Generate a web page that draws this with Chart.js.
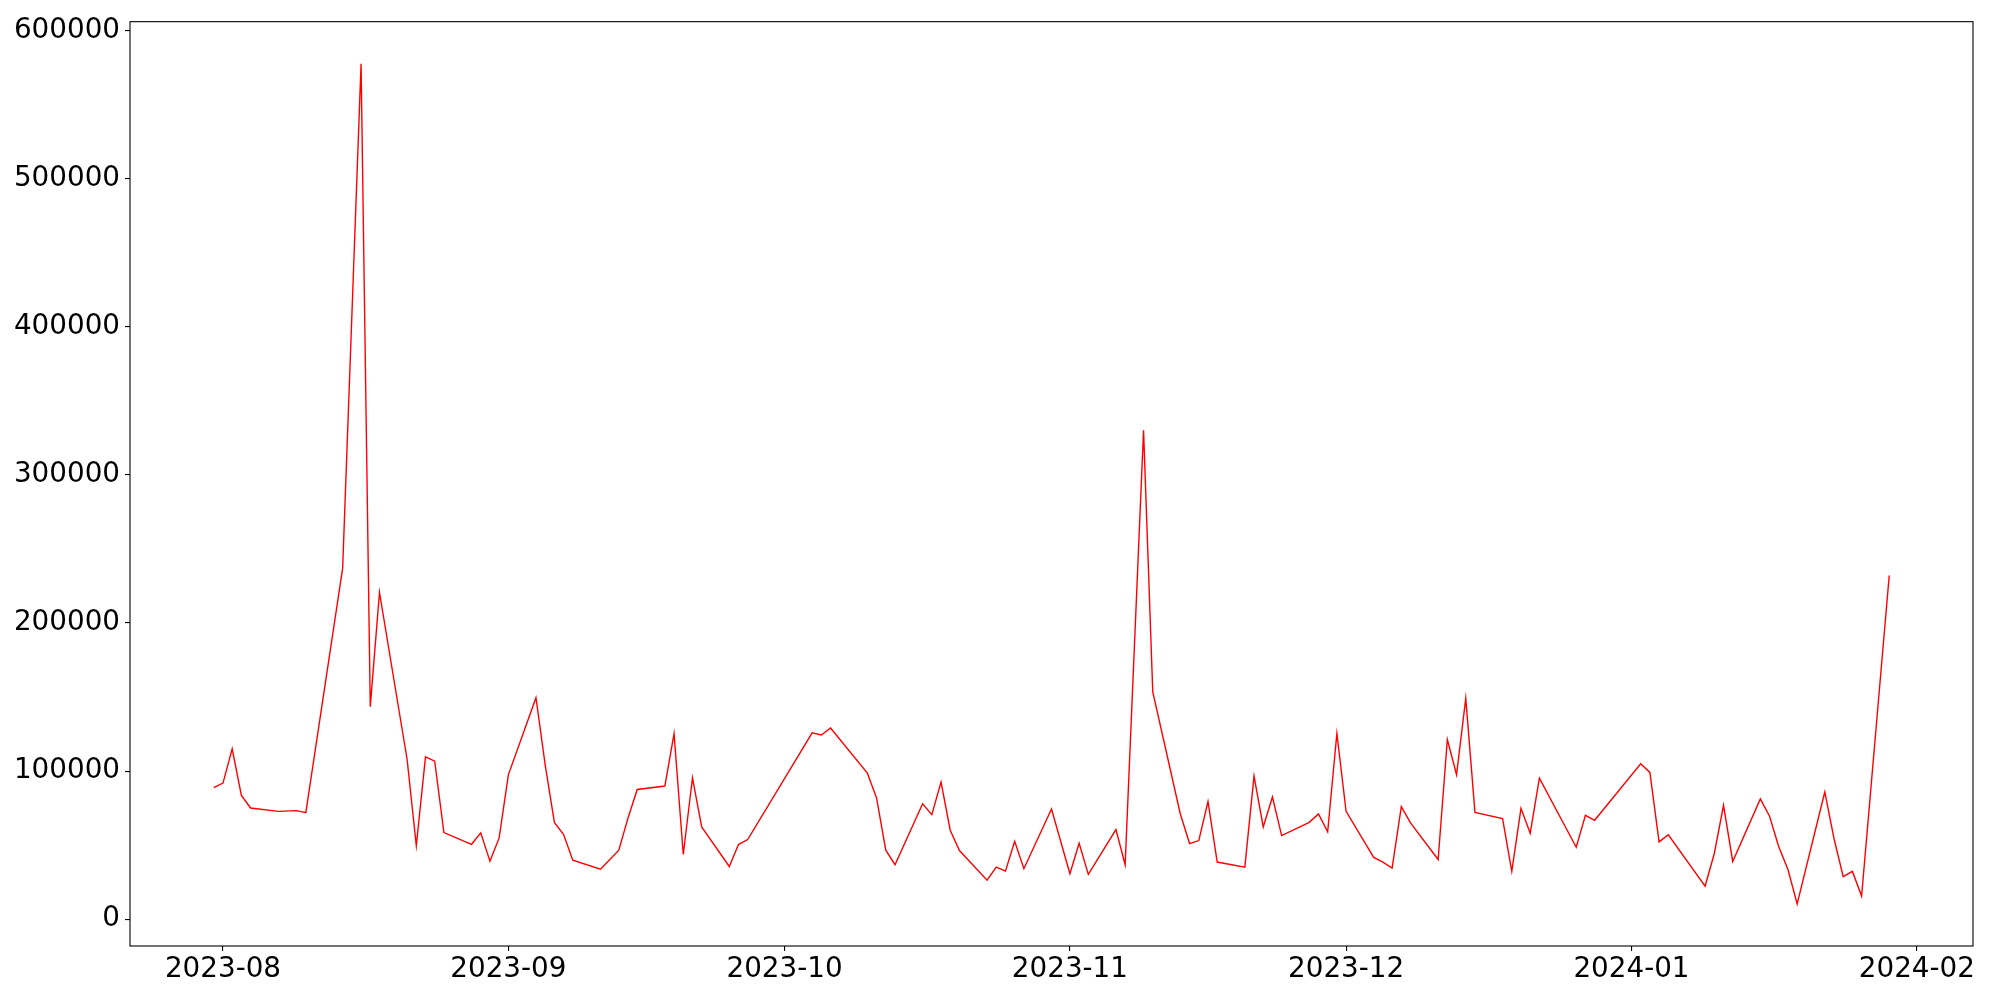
<!DOCTYPE html>
<html>
<head>
<meta charset="utf-8">
<script src="https://cdn.jsdelivr.net/npm/chart.js@4.4.0/dist/chart.umd.min.js"></script>
<style>
html, body { margin: 0; padding: 0; background: #fff; }
#wrap { width: 2000px; height: 1000px; }
</style>
</head>
<body>
<div id="wrap"><canvas id="c" width="2000" height="1000"></canvas></div>
<script>
// daily values
const dates = [
    '2023-07-31', '2023-08-01', '2023-08-02', '2023-08-03', '2023-08-04', '2023-08-07', '2023-08-09', '2023-08-10',
    '2023-08-14', '2023-08-16', '2023-08-17', '2023-08-18', '2023-08-21', '2023-08-22', '2023-08-23', '2023-08-24',
    '2023-08-25', '2023-08-28', '2023-08-29', '2023-08-30', '2023-08-31', '2023-09-01', '2023-09-04', '2023-09-05',
    '2023-09-06', '2023-09-07', '2023-09-08', '2023-09-11', '2023-09-13', '2023-09-14', '2023-09-15', '2023-09-18',
    '2023-09-19', '2023-09-20', '2023-09-21', '2023-09-22', '2023-09-25', '2023-09-26', '2023-09-27', '2023-10-04',
    '2023-10-05', '2023-10-06', '2023-10-10', '2023-10-11', '2023-10-12', '2023-10-13', '2023-10-16', '2023-10-17',
    '2023-10-18', '2023-10-19', '2023-10-20', '2023-10-23', '2023-10-24', '2023-10-25', '2023-10-26', '2023-10-27',
    '2023-10-30', '2023-11-01', '2023-11-02', '2023-11-03', '2023-11-06', '2023-11-07', '2023-11-09', '2023-11-10',
    '2023-11-13', '2023-11-14', '2023-11-15', '2023-11-16', '2023-11-17', '2023-11-20', '2023-11-21', '2023-11-22',
    '2023-11-23', '2023-11-24', '2023-11-27', '2023-11-28', '2023-11-29', '2023-11-30', '2023-12-01', '2023-12-04',
    '2023-12-05', '2023-12-06', '2023-12-07', '2023-12-08', '2023-12-11', '2023-12-12', '2023-12-13', '2023-12-14',
    '2023-12-15', '2023-12-18', '2023-12-19', '2023-12-20', '2023-12-21', '2023-12-22', '2023-12-26', '2023-12-27',
    '2023-12-28', '2024-01-02', '2024-01-03', '2024-01-04', '2024-01-05', '2024-01-09', '2024-01-10', '2024-01-11',
    '2024-01-12', '2024-01-15', '2024-01-16', '2024-01-17', '2024-01-18', '2024-01-19', '2024-01-22', '2024-01-23',
    '2024-01-24', '2024-01-25', '2024-01-26', '2024-01-29'
];
const values = [
    88800, 91900, 115000, 83600, 75100, 72800, 73300, 72000,
    237000, 577500, 143500, 220600, 108000, 49800, 109600, 106700,
    58500, 50600, 58300, 39200, 54900, 97500, 149500, 104200,
    65400, 57200, 39900, 33800, 46600, 68400, 87600, 89900,
    125300, 43700, 95500, 62300, 35600, 50400, 53800, 125800,
    124400, 129100, 98600, 81800, 46600, 36800, 78000, 70600,
    92600, 60100, 46400, 26400, 35200, 32500, 52700, 34100,
    74400, 30700, 51300, 30300, 60500, 36800, 330000, 153500,
    70900, 51100, 53100, 79500, 38600, 35200, 96600, 62300,
    82500, 56500, 65400, 71100, 59000, 125500, 72800, 41700,
    38500, 34500, 76000, 65000, 40300, 121300, 97500, 149100,
    72100, 67900, 32300, 74900, 58100, 95300, 48600, 70100,
    66800, 104900, 99100, 52200, 57000, 22400, 44400, 76900,
    39000, 81200, 69500, 48900, 33600, 10300, 85900, 54500,
    28700, 32300, 15700, 232000
];
const xTickDates = ['2023-08-01', '2023-09-01', '2023-10-01', '2023-11-01', '2023-12-01', '2024-01-01', '2024-02-01'];
const xTickLabels = ['2023-08', '2023-09', '2023-10', '2023-11', '2023-12', '2024-01', '2024-02'];
const yTicks = [0, 100000, 200000, 300000, 400000, 500000, 600000];

const DAY_MS = 86400000;
function toDay(s) {
    const p = s.split('-').map(Number);
    return Date.UTC(p[0], p[1] - 1, p[2]) / DAY_MS;
}

const points = dates.map((d, i) => ({ x: toDay(d), y: values[i] }));

// axis limits like matplotlib's default 5% margin
const xs = points.map(p => p.x);
const xLo = Math.min(...xs), xHi = Math.max(...xs);
const xPad = (xHi - xLo) * 0.05;
const yLo = Math.min(...values), yHi = Math.max(...values);
const yPad = (yHi - yLo) * 0.05;

const tickFont = { family: "'DejaVu Sans', sans-serif", size: 27.8 };

// four-sided frame round the plot
const framePlugin = {
    id: 'frame',
    afterDraw(chart) {
        const a = chart.chartArea;
        const ctx = chart.ctx;
        ctx.save();
        ctx.strokeStyle = '#000';
        ctx.lineWidth = 1.1;
        ctx.strokeRect(a.left, a.top, a.right - a.left, a.bottom - a.top);
        ctx.restore();
    }
};

new Chart(document.getElementById('c'), {
    type: 'line',
    data: {
        datasets: [{
            data: points,
            borderColor: '#ff0000',
            borderWidth: 1.4,
            pointRadius: 0,
            tension: 0,
            fill: false
        }]
    },
    options: {
        responsive: false,
        animation: false,
        devicePixelRatio: 1,
        layout: { padding: { top: 18, right: 27, left: 0, bottom: 0 } },
        plugins: {
            legend: { display: false },
            tooltip: { enabled: false }
        },
        scales: {
            x: {
                type: 'linear',
                min: xLo - xPad,
                max: xHi + xPad,
                border: { display: false },
                grid: { drawOnChartArea: false, drawTicks: true, tickLength: 5, color: '#000', lineWidth: 1.1 },
                afterBuildTicks(scale) {
                    scale.ticks = xTickDates.map(d => ({ value: toDay(d) }));
                },
                ticks: {
                    color: '#000',
                    font: tickFont,
                    padding: 2,
                    maxRotation: 0,
                    autoSkip: false,
                    callback(value) {
                        const i = xTickDates.findIndex(d => toDay(d) === value);
                        return i >= 0 ? xTickLabels[i] : '';
                    }
                },
                afterFit(scale) { scale.height = 54; }
            },
            y: {
                type: 'linear',
                min: yLo - yPad,
                max: yHi + yPad,
                border: { display: false },
                grid: { drawOnChartArea: false, drawTicks: true, tickLength: 5, color: '#000', lineWidth: 1.1 },
                afterBuildTicks(scale) {
                    scale.ticks = yTicks.map(v => ({ value: v }));
                },
                ticks: {
                    color: '#000',
                    font: tickFont,
                    padding: 5,
                    autoSkip: false,
                    callback(value) { return String(value); }
                },
                afterFit(scale) { scale.width = 130; }
            }
        }
    },
    plugins: [framePlugin]
});
</script>
</body>
</html>
